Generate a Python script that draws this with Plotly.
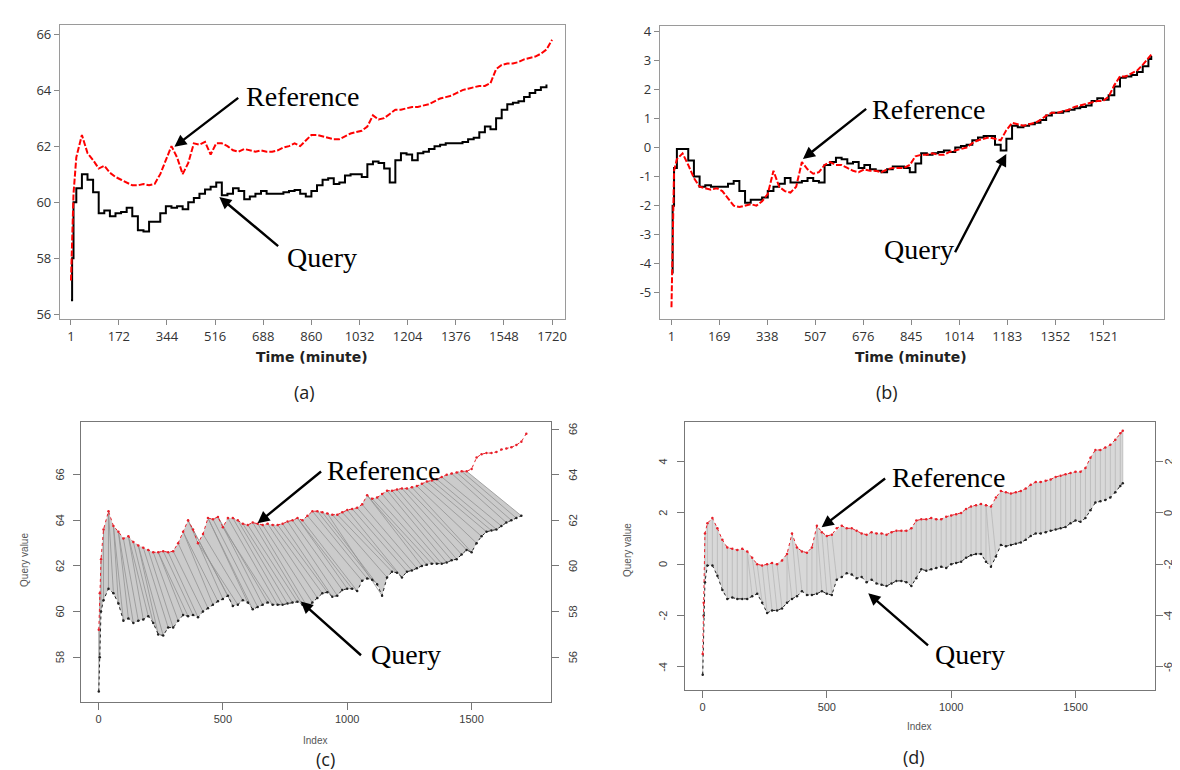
import plotly.graph_objects as go

# ---------------- data ----------------
a_time = [1, 5, 10] + list(range(20, 1701, 20)) + [1720]
a_query = [56.5, 58.0, 60.0, 60.5, 61.0, 60.8, 60.35, 59.6, 59.7, 59.5, 59.6, 59.65, 59.8, 59.5,
           59.0, 58.95, 59.3, 59.3, 59.6, 59.85, 59.8, 59.85, 59.75, 60.0, 60.15, 60.3, 60.45,
           60.55, 60.7, 60.25, 60.3, 60.5, 60.4, 60.1, 60.2, 60.3, 60.4, 60.3, 60.3, 60.3, 60.35,
           60.4, 60.43, 60.3, 60.2, 60.4, 60.6, 60.8, 60.85, 60.65, 60.7, 60.95, 61.0, 61.0, 60.9,
           61.35, 61.45, 61.4, 61.2, 60.7, 61.5, 61.75, 61.7, 61.5, 61.75, 61.8, 61.9, 62.0, 62.05,
           62.1, 62.1, 62.1, 62.15, 62.25, 62.3, 62.5, 62.7, 62.6, 63.0, 63.3, 63.5, 63.55, 63.6,
           63.75, 63.9, 64.0, 64.1, 64.2, None]
a_ref = [57.2, 58.8, 60.3, 61.6, 62.4, 61.75, 61.5, 61.2, 61.3, 61.05, 60.9, 60.8, 60.7, 60.6,
         60.6, 60.65, 60.6, 60.65, 61.0, 61.5, 62.0, 61.6, 61.0, 61.4, 62.1, 62.05, 62.15, 61.7,
         62.1, 62.1, 62.0, 61.85, 61.8, 61.9, 61.85, 61.8, 61.85, 61.8, 61.8, 61.85, 61.95, 62.0,
         62.1, 62.0, 62.2, 62.4, 62.4, 62.35, 62.3, 62.25, 62.25, 62.35, 62.45, 62.5, 62.55, 62.7,
         63.1, 62.95, 63.0, 63.15, 63.3, 63.3, 63.35, 63.4, 63.4, 63.45, 63.5, 63.6, 63.7, 63.75,
         63.8, 63.9, 64.0, 64.05, 64.1, 64.15, 64.15, 64.25, 64.75, 64.9, 64.95, 64.95, 65.0,
         65.1, 65.15, 65.2, 65.3, 65.45, 65.8]

b_time = [1, 5, 10] + list(range(20, 1681, 20)) + [1690]
b_query = [-4.3, -2.0, -0.7, -0.05, -0.05, -0.45, -1.0, -1.35, -1.3, -1.35, -1.35, -1.35, -1.25,
           -1.15, -1.5, -1.9, -1.8, -1.8, -1.72, -1.5, -1.35, -1.25, -1.05, -1.2, -1.2, -1.15,
           -1.05, -1.15, -1.2, -0.6, -0.5, -0.35, -0.4, -0.55, -0.5, -0.7, -0.6, -0.75, -0.8,
           -0.85, -0.75, -0.65, -0.65, -0.7, -0.85, -0.55, -0.2, -0.25, -0.2, -0.15, -0.1, -0.15,
           0.0, 0.05, 0.1, 0.25, 0.35, 0.4, 0.4, 0.1, -0.1, 0.3, 0.75, 0.7, 0.75, 0.8, 0.85, 0.95,
           1.1, 1.2, 1.2, 1.25, 1.3, 1.35, 1.4, 1.45, 1.6, 1.7, 1.65, 1.8, 2.1, 2.4, 2.45, 2.5,
           2.6, 2.8, 3.05, 3.15]
b_ref = [-5.5, -3.5, -0.8, -0.4, -0.2, -0.6, -1.05, -1.35, -1.4, -1.45, -1.4, -1.5, -1.75, -2.0,
         -2.05, -2.0, -1.95, -2.0, -1.85, -1.6, -0.8, -1.35, -1.5, -1.55, -1.35, -0.5, -0.75,
         -0.9, -0.85, -0.6, -0.5, -0.6, -0.6, -0.7, -0.8, -0.85, -0.75, -0.8, -0.8, -0.85, -0.75,
         -0.7, -0.7, -0.7, -0.6, -0.3, -0.25, -0.25, -0.2, -0.25, -0.25, -0.15, -0.1, -0.05, 0.0,
         0.15, 0.25, 0.3, 0.35, 0.3, 0.25, 0.6, 0.85, 0.8, 0.75, 0.8, 0.85, 0.95, 1.1, 1.2, 1.2,
         1.25, 1.3, 1.4, 1.45, 1.5, 1.55, 1.6, 1.6, 1.75, 2.15, 2.45, 2.45, 2.55, 2.65, 2.85,
         3.1, 3.2]

# DTW warping (c) and (d): lag (query index - matched reference index)
# for each query sample time
c_lag = [0, 0, 0, 0, 0, 20, 20, 40, 40, 60, 60, 60, 80, 80, 80, 100, 100, 100, 100, 100,
         120, 120, 120, 120, 120, 120, 140, 140, 160, 160, 160, 160, 160, 180, 180, 180, 200, 200,
         200, 200, 200, 200, 200, 200, 200, 200, 200, 200, 200, 200, 200, 200, 200,
         220, 220, 220, 220, 220, 220, 220, 220, 220, 220, 220, 220, 220, 220, 220,
         240, 240, 240, 240, 240, 240, 240, 240, 240, 240, 240, 240, 240, 240, 240, 240,
         220, 220, 220, 220]
d_lag = [0, 0, 0, 0, 0, 0, 0, 0, 0, 0, 0, 0,
         20, 20, 20, 20, 20, 20, 20, 0, 20, 20, 20, 0, 0, 0, 20, 20, 20, 20,
         0, 0, 0, 0, 0, 0, 0, 0, 0, 0, 0, 0, 0, 0, 0, 0, 0, 0, 0, 0, 0, 0, 0, 0, 0, 0, 0, 0, 0, 0,
         20, 20,
         0, 0, 0, 0, 0, 0, 0, 0, 0, 0, 0, 0, 0, 0, 0, 0, 0, 0, 0, 0, 0, 0, 0, 0, 0, 0]

a_ticks = [1, 172, 344, 516, 688, 860, 1032, 1204, 1376, 1548, 1720]
b_ticks = [1, 169, 338, 507, 676, 845, 1014, 1183, 1352, 1521]
a_yticks = [56, 58, 60, 62, 64, 66]
b_yticks = [-5, -4, -3, -2, -1, 0, 1, 2, 3, 4]
idx_ticks = [0, 500, 1000, 1500]
c_yticks = [58, 60, 62, 64, 66]
c_rticks = [56, 58, 60, 62, 64, 66]
d_yticks = [-4, -2, 0, 2, 4]
d_rticks = [-6, -4, -2, 0, 2]
offset = 2  # display offset of the reference in the two-way DTW plots

W, H = 1180, 770


def px(x):
    return x / W


def py(y):
    return 1 - y / H


fig = go.Figure()

# (a)
fig.add_trace(go.Scatter(x=a_time, y=a_query, mode="lines", line=dict(color="black", width=2, shape="hv"),
                         xaxis="x", yaxis="y"))
fig.add_trace(go.Scatter(x=a_time, y=a_ref, mode="lines", line=dict(color="#ff0000", width=2, dash="6px,2px"),
                         xaxis="x", yaxis="y"))
# (b)
fig.add_trace(go.Scatter(x=b_time, y=b_query, mode="lines", line=dict(color="black", width=2, shape="hv"),
                         xaxis="x2", yaxis="y2"))
fig.add_trace(go.Scatter(x=b_time, y=b_ref, mode="lines", line=dict(color="#ff0000", width=2, dash="6px,2px"),
                         xaxis="x2", yaxis="y2"))


def twoway(times, qv, rv, lags, xa, ya, ya_r, fillc, linec):
    pos = {t: k for k, t in enumerate(times)}
    pairs = []
    for t, v, lag in zip(times, qv, lags):
        if v is None:
            continue
        j = pos[t - lag]
        pairs.append((t, v, times[j], rv[j] + offset))
    # band covered by the match lines
    fx, fy = [], []
    for (t1, q1, s1, r1), (t2, q2, s2, r2) in zip(pairs[:-1], pairs[1:]):
        fx += [t1, t2, s2, s1, t1, None]
        fy += [q1, q2, r2, r1, q1, None]
    fig.add_trace(go.Scatter(x=fx, y=fy, mode="lines", fill="toself", fillcolor=fillc,
                             line=dict(width=0, color=fillc), xaxis=xa, yaxis=ya))
    lx, ly = [], []
    for t, q, s, r in pairs:
        lx += [t, s, None]
        ly += [q, r, None]
    fig.add_trace(go.Scatter(x=lx, y=ly, mode="lines", line=dict(color=linec, width=0.8),
                             xaxis=xa, yaxis=ya))
    qt = [t for t, v in zip(times, qv) if v is not None]
    qq = [v for v in qv if v is not None]
    fig.add_trace(go.Scatter(x=qt, y=qq, mode="lines+markers", line=dict(color="#222222", width=1, dash="dot"),
                             marker=dict(size=2.5, color="#222222"), xaxis=xa, yaxis=ya))
    fig.add_trace(go.Scatter(x=times, y=rv, mode="lines+markers", line=dict(color="#e8202a", width=1, dash="dot"),
                             marker=dict(size=2.5, color="#e8202a"), xaxis=xa, yaxis=ya_r))


twoway(a_time, a_query, a_ref, c_lag, "x3", "y3", "y5", "#cbcbcb", "#939393")
twoway(b_time, b_query, b_ref, d_lag, "x4", "y4", "y6", "#d8d8d8", "#b8b8b8")

mfont = dict(family="Open Sans, DejaVu Sans", size=13, color="#333333")
rfont = dict(family="Liberation Sans, Arial", size=11, color="#3c3c3c")

common_m = dict(showgrid=False, zeroline=False, showline=True, linecolor="#9a9a9a", linewidth=1, mirror=True,
                ticks="outside", ticklen=5, tickcolor="#888888", tickfont=mfont)
common_r = dict(showgrid=False, zeroline=False, showline=True, linecolor="#777777", linewidth=1, mirror=True,
                ticks="outside", ticklen=7, tickcolor="#777777", tickfont=rfont)

fig.update_layout(
    width=W, height=H, margin=dict(l=0, r=0, t=0, b=0),
    paper_bgcolor="white", plot_bgcolor="white", showlegend=False,
    xaxis=dict(domain=[px(52), px(557.6)], range=[-38.6, 1765], anchor="y",
               tickvals=a_ticks, ticktext=[str(v) for v in a_ticks], **common_m),
    yaxis=dict(domain=[py(310), py(13)], range=[55.82, 66.33], anchor="x",
               tickvals=a_yticks, ticktext=[str(v) for v in a_yticks], **common_m),
    xaxis2=dict(domain=[px(653), px(1158)], range=[-39.8, 1735], anchor="y2",
                tickvals=b_ticks, ticktext=[str(v) for v in b_ticks], **common_m),
    yaxis2=dict(domain=[py(310), py(14)], range=[-5.91, 4.19], anchor="x2",
                tickvals=b_yticks, ticktext=[str(v) for v in b_yticks], **common_m),
    xaxis3=dict(domain=[px(73.5), px(543.6)], range=[-69, 1818], anchor="y3",
                tickvals=idx_ticks, ticktext=[str(v) for v in idx_ticks], **common_r),
    yaxis3=dict(domain=[py(696.5), py(414)], range=[56.03, 68.3], anchor="x3",
                tickvals=c_yticks, showticklabels=False, **common_r),
    yaxis5=dict(overlaying="y3", side="right", anchor="x3", range=[56.03 - offset, 68.3 - offset],
                tickvals=c_rticks, showticklabels=False,
                showgrid=False, zeroline=False, showline=False, ticks="outside", ticklen=7,
                tickcolor="#777777"),
    xaxis4=dict(domain=[px(677.7), px(1148.8)], range=[-72, 1819], anchor="y4",
                tickvals=idx_ticks, ticktext=[str(v) for v in idx_ticks], **common_r),
    yaxis4=dict(domain=[py(684), py(414)], range=[-4.89, 5.53], anchor="x4",
                tickvals=d_yticks, showticklabels=False, **common_r),
    yaxis6=dict(overlaying="y4", side="right", anchor="x4", range=[-4.89 - offset, 5.53 - offset],
                tickvals=d_rticks, showticklabels=False,
                showgrid=False, zeroline=False, showline=False, ticks="outside", ticklen=7,
                tickcolor="#777777"),
)

ann = []
serif = dict(family="Liberation Serif, Times New Roman", size=28, color="black")


def label(text, x, y, font, xanchor="left", angle=0):
    ann.append(dict(text=text, x=px(x), y=py(y), xref="paper", yref="paper", showarrow=False,
                    xanchor=xanchor, yanchor="middle", font=font, textangle=angle))


def arrow(tail, tip):
    ann.append(dict(text="", x=px(tip[0]), y=py(tip[1]), xref="paper", yref="paper", showarrow=True,
                    ax=tail[0] - tip[0], ay=tail[1] - tip[1], axref="pixel", ayref="pixel",
                    arrowhead=2, arrowsize=1.0, arrowwidth=2.4, arrowcolor="black"))


def rot_ticks(vals, yref, xpix):
    for v in vals:
        ann.append(dict(text=str(v), x=px(xpix), y=v, xref="paper", yref=yref, showarrow=False,
                        xanchor="center", yanchor="middle", textangle=-90, font=rfont))


rot_ticks(c_yticks, "y3", 52)
rot_ticks(c_rticks, "y5", 566)
rot_ticks(d_yticks, "y4", 656)
rot_ticks(d_rticks, "y6", 1162)

# (a)
label("Reference", 236, 85, serif)
arrow((232, 86), (166.7, 136))
label("Query", 277, 248, serif)
arrow((272, 237), (211.7, 186.7))
# (b)
label("Reference", 863, 98, serif)
arrow((861, 97), (796.3, 148.3))
label("Query", 875, 240, serif)
arrow((948, 243), (1000, 143.3))
# (c)
label("Reference", 318, 463, serif)
arrow((315, 463), (250, 516))
label("Query", 362, 648, serif)
arrow((355, 650), (293.3, 595))
# (d)
label("Reference", 883, 470, serif)
arrow((880, 470), (815, 520))
label("Query", 927, 648, serif)
arrow((923, 640), (861.7, 586.7))

bold = dict(family="DejaVu Sans", size=14, color="#222222")
label("<b>Time (minute)</b>", 305, 348, bold, xanchor="center")
label("<b>Time (minute)</b>", 905, 348, bold, xanchor="center")
cap = dict(family="Open Sans, DejaVu Sans", size=18, color="#222222")
label("(a)", 297, 383, cap, xanchor="center")
label("(b)", 880, 383, cap, xanchor="center")
label("(c)", 318, 754, cap, xanchor="center")
label("(d)", 908, 752, cap, xanchor="center")
small = dict(family="Liberation Sans, Arial", size=10, color="#555555")
label("Index", 308, 735, small, xanchor="center")
label("Index", 913, 721, small, xanchor="center")
label("Query value", 17, 553, small, xanchor="center", angle=-90)
label("Query value", 620, 543, small, xanchor="center", angle=-90)

fig.update_layout(annotations=ann)
fig.write_html("out.html")
